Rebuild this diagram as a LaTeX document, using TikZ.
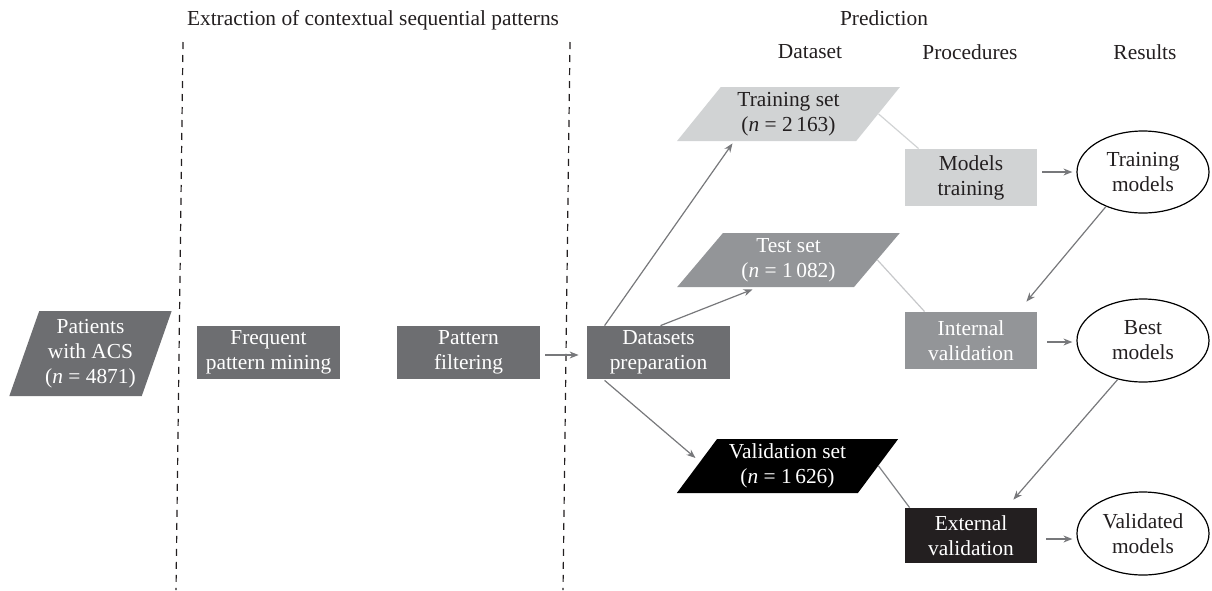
\documentclass[tikz,border=0pt]{standalone}
\usepackage{fontspec}
\setmainfont{Liberation Serif}
\usetikzlibrary{shapes.geometric,arrows.meta,calc}
\definecolor{darkbox}{HTML}{6D6E71}
\definecolor{lightbox}{HTML}{D1D3D4}
\definecolor{midbox}{HTML}{939598}
\definecolor{nearblack}{HTML}{231F20}
\definecolor{arrowgray}{HTML}{77787B}
\definecolor{linklight}{HTML}{D1D3D4}
\definecolor{linkmid}{HTML}{C7C8CA}
\definecolor{linkdark}{HTML}{808285}
\begin{document}
\begin{tikzpicture}[x=0.5pt,y=-0.5pt,
  font=\fontsize{10.7}{12.5}\selectfont,
  txt/.style={text=nearblack, inner sep=0pt},
  boxl/.style={rectangle, inner sep=0pt, align=center, minimum width=71.5pt, minimum height=26.5pt, fill=darkbox, text=white},
  boxr/.style={rectangle, inner sep=0pt, align=center, minimum width=66pt, minimum height=28.5pt},
  para/.style={trapezium, trapezium stretches=true, trapezium left angle=53, trapezium right angle=127,
    minimum width=111.5pt, minimum height=27pt, inner sep=0pt, align=center},
  ell/.style={ellipse, draw=black, line width=0.6pt, minimum width=66pt, minimum height=41pt, inner sep=0pt, align=center, text=nearblack},
  arr/.style={draw=arrowgray, line width=0.6pt, -{Stealth[length=4.5pt,width=3.5pt]}},
  divider/.style={draw=nearblack, line width=0.6pt, dash pattern=on 3.5pt off 3pt}
]
\useasboundingbox (0,0) rectangle (1212,590);

% headers
\node[txt] (hext) at (373,20) {Extraction of contextual sequential patterns};
\node[txt] (hpred) at (884,18) {Prediction};
\node[txt] (hds) at (810,52) {Dataset};
\node[txt] (hproc) at (970,52) {Procedures};
\node[txt] (hres) at (1145,52) {Results};

% dividers
\draw[divider] (183,42) -- (176,590);
\draw[divider] (570,42) -- (563,590);

% left part
\node[trapezium, trapezium stretches=true, trapezium left angle=69, trapezium right angle=111,
  minimum width=81.5pt, minimum height=42.5pt, inner sep=0pt, align=center, fill=darkbox, text=white]
  (pat) at (90.5,353.5) {Patients\\with ACS\\(\textit{n} = 4871)};
\node[boxl] (freq) at (268.5,352.5) {Frequent\\pattern mining};
\node[boxl] (filt) at (468.5,352.5) {Pattern\\filtering};
\node[boxl] (prep) at (658.5,352.5) {Datasets\\preparation};

% datasets
\node[para, fill=lightbox, text=nearblack] (train) at (788.5,114) {Training set\\(\textit{n} = 2\,163)};
\node[para, fill=midbox, text=white] (test) at (788.5,260) {Test set\\(\textit{n} = 1\,082)};
\node[para, fill=black, text=white] (valid) at (787.5,466) {Validation set\\(\textit{n} = 1\,626)};

% procedures
\node[boxr, fill=lightbox, text=nearblack] (mtrain) at (971,177.5) {Models\\training};
\node[boxr, fill=midbox, text=white] (intval) at (971,340.5) {Internal\\validation};
\node[boxr, fill=nearblack, text=white, minimum height=27.5pt] (extval) at (971,535.5) {External\\validation};

% results
\node[ell] (tmod) at (1143,172) {Training\\models};
\node[ell, minimum height=41.5pt] (best) at (1143,340.5) {Best\\models};
\node[ell, minimum height=41.5pt] (vmod) at (1143,533.5) {Validated\\models};

% connectors
\draw[arr] ($(filt.east)+(5,2.5)$) -- ($(prep.west)+(-8,2.5)$);
\draw[arr] ($(prep.north west)+(18,0)$) -- ($(train.south)+(-56,2)$);
\draw[arr] ($(prep.north)+(2,0)$) -- ($(test.south)+(-36,2)$);
\draw[arr] ($(prep.south west)+(18,1)$) -- ($(valid.west)+(-1,-8)$);

\draw[draw=linklight, line width=0.6pt] (train.east) -- ($(mtrain.north west)+(14,0)$);
\draw[draw=linkmid, line width=0.6pt] (test.east) -- ($(intval.north west)+(20,0)$);
\draw[draw=linkdark, line width=0.6pt] (valid.east) -- ($(extval.north west)+(5,0)$);

\draw[arr] ($(mtrain.east |- tmod.west)+(5,0)$) -- ($(tmod.west)+(-4,0)$);
\draw[arr] ($(intval.east)+(10,1.5)$) -- ($(best.west |- intval.east)+(-4,1.5)$);
\draw[arr] ($(extval.east)+(9,3.5)$) -- ($(vmod.west |- extval.east)+(-4,3.5)$);
\draw[arr] (tmod.223) -- ($(intval.north east)+(-11,-10)$);
\draw[arr] (best.237) -- ($(extval.north east)+(-24,-8)$);
\end{tikzpicture}
\end{document}
